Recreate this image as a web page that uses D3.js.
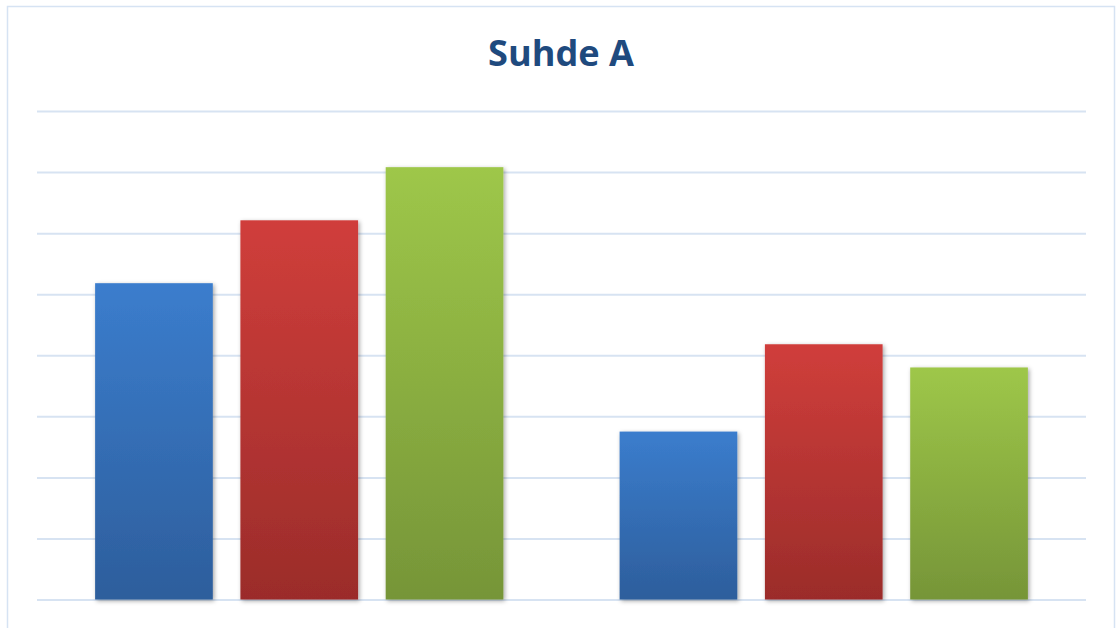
<!DOCTYPE html>
<html>
<head>
<meta charset="utf-8">
<script src="https://cdn.jsdelivr.net/npm/d3@7"></script>
<style>
  html, body { margin: 0; padding: 0; background: #ffffff; }
  svg { display: block; }
</style>
</head>
<body>
<svg id="chart" width="1117" height="628"></svg>
<script>
// Chart data
const groups = ["Ryhmä 1", "Ryhmä 2"];
const seriesNames = ["Sarja 1", "Sarja 2", "Sarja 3"];
const series1 = [5.18, 2.75];
const series2 = [6.21, 4.18];
const series3 = [7.08, 3.80];
const yTicks = [0, 1, 2, 3, 4, 5, 6, 7, 8];
const titleText = "Suhde A";

const seriesValues = [series1, series2, series3];
const rows = groups.map((g, gi) => ({
  group: g,
  values: seriesNames.map((s, si) => ({ series: s, index: si, value: seriesValues[si][gi] }))
}));

const W = 1117, H = 628;
const plot = { left: 37, right: 1086, top: 111, bottom: 599.5 };

const svg = d3.select("#chart");

// Gradient fills: lighter at top, darker at the base
const palette = [
  { top: "#3b7dcd", bottom: "#2d5e9c" },
  { top: "#d03e3b", bottom: "#9b2c2a" },
  { top: "#9ec749", bottom: "#769538" }
];
const defs = svg.append("defs");
palette.forEach((c, i) => {
  const g = defs.append("linearGradient")
    .attr("id", "grad" + i)
    .attr("x1", 0).attr("y1", 0).attr("x2", 0).attr("y2", 1);
  g.append("stop").attr("offset", "0%").attr("stop-color", c.top);
  g.append("stop").attr("offset", "100%").attr("stop-color", c.bottom);
});
const shadow = defs.append("filter").attr("id", "shadow")
  .attr("x", "-20%").attr("y", "-10%").attr("width", "140%").attr("height", "120%");
shadow.append("feDropShadow")
  .attr("dx", 1.5).attr("dy", 1.5).attr("stdDeviation", 2)
  .attr("flood-color", "#000").attr("flood-opacity", 0.35);

// Outer frame
svg.append("rect")
  .attr("x", 7.5).attr("y", 6.5)
  .attr("width", 1107).attr("height", 640)
  .attr("fill", "#ffffff")
  .attr("stroke", "#d6e3f3").attr("stroke-width", 1.5);

// Scales
const x0 = d3.scaleBand().domain(groups).range([plot.left, plot.right]).padding(0);
const x1 = d3.scaleBand().domain(seriesNames).range([0, x0.bandwidth()])
  .paddingInner(0.19).paddingOuter(0.4);
const y = d3.scaleLinear().domain([0, 8]).range([plot.bottom, plot.top]);

// Horizontal gridlines
svg.append("g")
  .attr("transform", `translate(${plot.left},0)`)
  .call(d3.axisLeft(y).tickValues(yTicks).tickSize(-(plot.right - plot.left)).tickFormat(""))
  .call(g => g.select(".domain").remove())
  .call(g => g.selectAll(".tick line")
    .attr("stroke", "#d7e3f2").attr("stroke-width", 2));

// Bars
const gGroups = svg.append("g").selectAll("g")
  .data(rows)
  .join("g")
  .attr("transform", d => `translate(${x0(d.group)},0)`);

gGroups.selectAll("rect")
  .data(d => d.values)
  .join("rect")
  .attr("x", d => x1(d.series))
  .attr("y", d => y(d.value))
  .attr("width", x1.bandwidth())
  .attr("height", d => y(0) - y(d.value))
  .attr("fill", d => `url(#grad${d.index})`)
  .attr("filter", "url(#shadow)");

// Title
svg.append("text")
  .attr("x", 561)
  .attr("y", 66)
  .attr("text-anchor", "middle")
  .attr("font-family", "'Open Sans', 'Liberation Sans', sans-serif")
  .attr("font-weight", "bold")
  .attr("font-size", 36)
  .attr("fill", "#1f4a7e")
  .attr("textLength", 146)
  .attr("lengthAdjust", "spacingAndGlyphs")
  .text(titleText);
</script>
</body>
</html>
